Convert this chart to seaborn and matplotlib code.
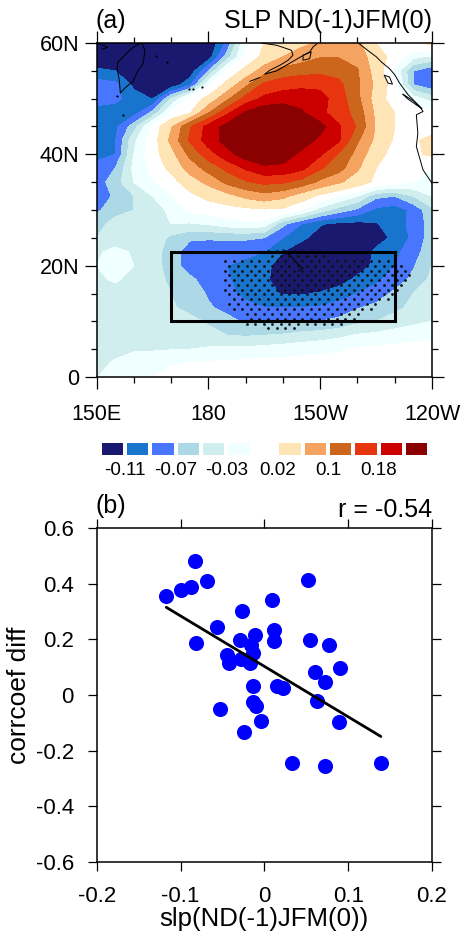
import numpy as np
import seaborn as sns
import matplotlib.pyplot as plt
from matplotlib.colors import ListedColormap

# map field
lons = [150, 155, 160, 165, 170, 175, 180, 185, 190, 195, 200, 205, 210, 215, 220, 225, 230, 235, 240]
lats = [60, 57.5, 55, 52.5, 50, 47.5, 45, 42.5, 40, 37.5, 35, 32.5, 30, 27.5, 25, 22.5, 20, 17.5, 15, 12.5, 10, 7.5, 5, 2.5, 0]
slp = [
    [-.13, -.13, -.13, -.13, -.13, -.13, -.13, -.085, -.012, .02, .04, .05, .065, .08, .07, .02, .01, .01, .03],
    [-.13, -.13, -.13, -.13, -.13, -.13, -.122, -.06, -.005, .03, .06, .08, .098, .098, .08, .04, .005, -.025, -.035],
    [-.105, -.11, -.12, -.13, -.13, -.125, -.07, -.005, .03, .08, .115, .125, .13, .125, .105, .04, -.015, -.07, -.085],
    [-.08, -.085, -.115, -.125, -.125, -.095, -.015, .03, .09, .15, .165, .17, .17, .15, .105, .05, .0, -.07, -.085],
    [-.08, -.085, -.10, -.111, -.05, .0, .03, .09, .155, .19, .2, .205, .195, .16, .11, .04, .0, -.02, -.04],
    [-.1, -.1, -.1, -.065, -.01, .015, .095, .17, .225, .25, .255, .225, .19, .16, .125, .05, .02, .0, -.005],
    [-.095, -.095, -.06, -.005, .055, .135, .195, .235, .26, .27, .27, .26, .235, .185, .135, .055, .02, .01, .005],
    [-.095, -.092, -.035, .0, .07, .145, .2, .235, .265, .275, .265, .24, .21, .185, .105, .05, .015, .015, .03],
    [-.095, -.09, -.03, .005, .045, .11, .16, .205, .24, .255, .24, .21, .185, .135, .085, .03, .01, .015, .025],
    [-.085, -.07, -.025, -.005, .03, .075, .115, .15, .185, .21, .21, .19, .145, .115, .065, .02, .005, -.005, -.01],
    [-.08, -.06, -.03, -.012, .005, .04, .07, .11, .135, .15, .145, .125, .09, .065, .04, .012, .0, -.01, -.02],
    [-.09, -.065, -.05, -.03, -.012, .01, .03, .045, .07, .085, .07, .04, .012, -.01, -.03, -.065, -.07, -.05, -.03],
    [-.075, -.055, -.05, -.04, -.025, -.005, .0, .005, .01, .015, .012, -.01, -.04, -.06, -.075, -.095, -.1, -.085, -.055],
    [-.055, -.045, -.035, -.033, -.03, -.032, -.028, -.02, -.015, -.02, -.065, -.09, -.108, -.115, -.116, -.112, -.098, -.085, -.06],
    [-.05, -.04, -.035, -.035, -.055, -.067, -.068, -.067, -.067, -.07, -.09, -.105, -.12, -.135, -.135, -.12, -.105, -.085, -.06],
    [-.033, -.025, -.032, -.04, -.06, -.08, -.082, -.083, -.085, -.09, -.11, -.125, -.135, -.14, -.13, -.105, -.095, -.08, -.055],
    [-.03, -.022, -.03, -.04, -.06, -.08, -.085, -.09, -.095, -.105, -.118, -.13, -.135, -.135, -.12, -.105, -.09, -.072, -.05],
    [-.033, -.028, -.035, -.04, -.055, -.065, -.08, -.088, -.098, -.107, -.118, -.13, -.125, -.12, -.105, -.095, -.08, -.065, -.045],
    [-.04, -.037, -.04, -.042, -.05, -.06, -.072, -.085, -.095, -.103, -.112, -.112, -.108, -.1, -.09, -.08, -.066, -.05, -.04],
    [-.045, -.042, -.04, -.04, -.048, -.055, -.068, -.075, -.085, -.09, -.09, -.09, -.088, -.082, -.072, -.065, -.055, -.045, -.035],
    [-.045, -.04, -.038, -.035, -.04, -.045, -.052, -.065, -.072, -.075, -.072, -.072, -.07, -.065, -.055, -.05, -.042, -.035, -.03],
    [-.045, -.038, -.035, -.035, -.036, -.038, -.045, -.05, -.052, -.05, -.048, -.043, -.04, -.035, -.028, -.025, -.02, -.017, -.015],
    [-.038, -.035, -.032, -.032, -.031, -.03, -.027, -.026, -.025, -.023, -.02, -.018, -.015, -.012, -.008, -.006, -.004, -.003, -.002],
    [-.035, -.028, -.022, -.018, -.012, -.009, -.008, -.006, -.005, -.004, -.003, -.002, -.002, -.002, -.001, -.001, -.001, -.001, -.001],
    [-.032, -.012, -.011, -.01, -.005, -.004, -.003, -.002, -.002, -.002, -.001, -.001, -.001, -.001, -.001, 0, 0, 0, 0],
]
levels = [-0.11, -0.09, -0.07, -0.05, -0.03, -0.01, 0.02, 0.06, 0.1, 0.14, 0.18, 0.22]
colors = ['#191970', '#1874cd', '#4876ff', '#add8e6', '#d1eeee', '#f0ffff', '#ffffff',
          '#ffe4b5', '#f4a460', '#cd661d', '#e6350f', '#cd0000', '#8b0000']

# stippled area, one row per latitude
stip_lat = [22.6, 21.7, 20.8, 20.0, 19.1, 18.3, 17.4, 16.5, 15.7, 14.9, 14.0, 13.1, 12.3, 11.4, 10.5, 9.6, 8.8]
stip_west = [195, 197, 183, 183.5, 183, 183.5, 183, 183.5, 183, 183.5, 185, 185, 186, 189, 190, 190, 196]
stip_east = [211, 213, 229, 232, 234.5, 235, 234, 233, 232, 231, 229, 227, 225, 222, 220, 216, 205]

box_lon = [170, 230, 230, 170, 170]
box_lat = [10, 10, 22.5, 22.5, 10]

# coast outlines
coasts = [
    ([150.3, 153, 151.5], [60, 59.2, 58.9]),
    ([155.8, 157.1, 158.9, 160.7, 162.1, 163, 162.5, 161.2, 159.8, 157.6, 156.4, 156.1, 155.5, 155.8],
     [56.6, 57.5, 58.7, 59.6, 60, 58.7, 56.3, 55.1, 53.1, 51.9, 51, 53.4, 55.5, 56.6]),
    ([194.2, 198.3, 202.3, 202.7, 201.4, 199.2, 196.5, 195.1, 198.3, 200.9, 204.5, 207.2, 208.1, 209.4],
     [60, 59.6, 58.7, 57.8, 56.9, 56, 55.1, 54.4, 55, 56, 57.4, 58.4, 59.3, 60]),
    ([205.4, 207.6, 207.2, 205.4, 205.4], [57.8, 58.4, 57.2, 56.9, 57.8]),
    ([191.1, 193.8], [53.1, 53.8]),
    ([220.2, 223.3, 225.1, 226.4, 228.6, 230, 231.3, 233.6, 236.7, 237.6, 235.8, 236.2, 235.8, 237.6, 240],
     [60, 58.4, 57.5, 56.6, 55.4, 54.3, 52.8, 50.7, 48.6, 47.7, 47.1, 43.8, 41.4, 37.2, 34.8]),
    ([227.2, 228.6, 229.4, 228.2, 227.2], [54.2, 53.9, 52.6, 52.8, 54.2]),
    ([232.2, 235, 237.3, 236.2, 233.4, 232.2], [50.8, 49.6, 48.2, 48.7, 50, 50.8]),
    ([200, 202.7, 204.1, 205.4, 204.1], [22.9, 21.4, 20.2, 19.6, 19]),
]
islets_lon = [155.4, 166, 169, 157, 174.7, 176, 178.4]
islets_lat = [50.4, 57.7, 56.5, 47, 51.8, 51.7, 52.1]

# scatter panel
slp_idx = [-0.083, -0.068, -0.087, -0.100, -0.117, 0.052, 0.009, -0.027, -0.057, 0.012, 0.012, -0.011,
           -0.029, -0.082, 0.055, 0.077, -0.016, -0.014, -0.045, -0.042, -0.028, -0.017, 0.090, 0.060,
           0.072, -0.0135, 0.015, 0.022, 0.063, -0.013, -0.010, -0.053, -0.004, 0.089, -0.024, 0.033,
           0.072, 0.139]
corr_diff = [0.481, 0.410, 0.388, 0.378, 0.355, 0.412, 0.341, 0.302, 0.245, 0.235, 0.194, 0.215,
             0.197, 0.187, 0.199, 0.181, 0.180, 0.152, 0.145, 0.114, 0.128, 0.114, 0.098, 0.083,
             0.047, 0.032, 0.034, 0.025, -0.022, -0.024, -0.038, -0.052, -0.094, -0.096, -0.133, -0.245,
             -0.255, -0.246]
fit_x = [-0.117, 0.139]
fit_y = [0.315, -0.149]

sns.set_style('ticks')
plt.rcParams['font.family'] = ['Liberation Sans', 'DejaVu Sans']
plt.rcParams['text.color'] = 'black'
plt.rcParams['axes.labelcolor'] = 'black'
plt.rcParams['xtick.color'] = 'black'
plt.rcParams['ytick.color'] = 'black'
W, H = 465, 935


def px_axes(fig, left, top, right, bottom):
    return fig.add_axes([left / W, 1 - bottom / H, (right - left) / W, (bottom - top) / H])


def frame(ax, lw=1.1):
    for s in ax.spines.values():
        s.set_linewidth(lw)
        s.set_color('black')
    ax.tick_params(which='both', top=True, right=True, direction='out', color='black', width=0.9)


fig = plt.figure(figsize=(W / 100, H / 100), dpi=100)

# (a) map
ax = px_axes(fig, 96.5, 43, 432, 377)
ax.contourf(lons, lats, np.array(slp), levels=levels, colors=colors, extend='both')
for clon, clat in coasts:
    ax.plot(clon, clat, color='black', lw=0.7)
ax.scatter(islets_lon, islets_lat, s=2.5, color='black', linewidths=0)
for i, (la, w, e) in enumerate(zip(stip_lat, stip_west, stip_east)):
    row = np.arange(150 + 1.15 * (i % 2), 240, 2.3)
    row = row[(row >= w) & (row <= e)]
    ax.scatter(row, [la] * len(row), s=4, color='#111111', linewidths=0, zorder=3)
ax.plot(box_lon, box_lat, color='black', lw=2.2, solid_joinstyle='miter', zorder=4)
ax.set_xlim(150, 240)
ax.set_ylim(0, 60)
ax.set_xticks([150, 180, 210, 240], ['150E', '180', '150W', '120W'])
ax.set_yticks([0, 20, 40, 60], ['0', '20N', '40N', '60N'])
ax.set_xticks(np.arange(150, 241, 10), minor=True)
ax.set_yticks(np.arange(0, 61, 5), minor=True)
frame(ax)
ax.tick_params(which='major', length=8.6, labelsize=15.5)
ax.tick_params(which='minor', length=4.3)
ax.tick_params(axis='x', which='major', pad=11)
ax.tick_params(axis='y', which='major', pad=4)
fig.text(95 / W, 1 - 28 / H, '(a)', fontsize=18, ha='left', va='baseline')
fig.text(432 / W, 1 - 28 / H, 'SLP ND(-1)JFM(0)', fontsize=18, ha='right', va='baseline')

# colour bar
cax = px_axes(fig, 99.7, 440.5, 429.3, 456.5)
sns.heatmap(np.arange(len(colors)).reshape(1, -1), ax=cax, cmap=ListedColormap(colors), cbar=False,
            linewidths=1.5, linecolor='white', xticklabels=False, yticklabels=False)
cax.set_xticks([1, 3, 5, 7, 9, 11], [f'{levels[i - 1]:g}' for i in [1, 3, 5, 7, 9, 11]])
cax.tick_params(axis='x', length=0, labelsize=13.5, pad=4, bottom=True)

# (b) scatter
bx = px_axes(fig, 96.7, 528, 432, 862)
sns.regplot(x=slp_idx, y=corr_diff, ax=bx, fit_reg=False,
            scatter_kws={'s': 118, 'color': '#0000ff', 'alpha': 1, 'linewidths': 0})
sns.lineplot(x=fit_x, y=fit_y, ax=bx, color='black', lw=2)
bx.set_xlim(-0.2, 0.2)
bx.set_ylim(-0.6, 0.6)
bx.set_xticks([-0.2, -0.1, 0, 0.1, 0.2], ['-0.2', '-0.1', '0', '0.1', '0.2'])
bx.set_yticks([-0.6, -0.4, -0.2, 0, 0.2, 0.4, 0.6], ['-0.6', '-0.4', '-0.2', '0', '0.2', '0.4', '0.6'])
frame(bx)
bx.tick_params(which='major', length=6.5, labelsize=16)
bx.tick_params(axis='x', which='major', pad=11)
bx.tick_params(axis='y', which='major', pad=10)
bx.set_xlabel('slp(ND(-1)JFM(0))', fontsize=18.5, labelpad=0)
bx.set_ylabel('corrcoef diff', fontsize=19)
bx.yaxis.set_label_coords(-0.195, 0.5)
fig.text(95 / W, 1 - 513 / H, '(b)', fontsize=18, ha='left', va='baseline')
fig.text(432 / W, 1 - 517 / H, 'r = -0.54', fontsize=18, ha='right', va='baseline')

fig.savefig('out.png', dpi=100)
